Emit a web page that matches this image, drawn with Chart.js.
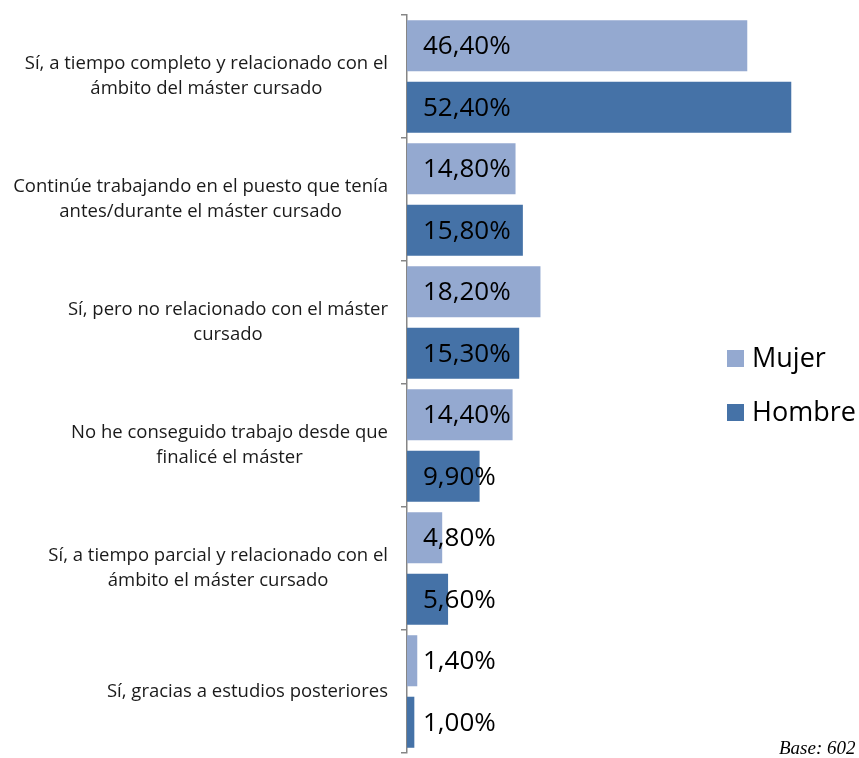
<!DOCTYPE html>
<html><head><meta charset="utf-8">
<script src="https://cdn.jsdelivr.net/npm/chart.js@4"></script>
<style>html,body{margin:0;padding:0;background:#fff;overflow:hidden}</style>
</head><body>
<canvas id="c" width="859" height="758"></canvas>
<script>
const categories = [
  ["Sí, a tiempo completo y relacionado con el","ámbito del máster cursado"],
  ["Continúe trabajando en el puesto que tenía","antes/durante el máster cursado"],
  ["Sí, pero no relacionado con el máster","cursado"],
  ["No he conseguido trabajo desde que","finalicé el máster"],
  ["Sí, a tiempo parcial y relacionado con el","ámbito el máster cursado"],
  ["Sí, gracias a estudios posteriores"]
];
const mujer = [46.4, 14.8, 18.2, 14.4, 4.8, 1.4];
const hombre = [52.4, 15.8, 15.3, 9.9, 5.6, 1.0];
const seriesNames = ["Mujer", "Hombre"];
const seriesColors = ["#94A9D0", "#4572A7"];
const baseNote = "Base: 602";
const FONT = "'Open Sans', sans-serif";

const fmt = v => v.toFixed(2).replace('.', ',') + '%';

const drawPlugin = {
  id: 'custom',
  afterDatasetsDraw(chart) {
    const ctx = chart.ctx;
    const x0 = chart.scales.x.getPixelForValue(0);
    ctx.save();
    ctx.fillStyle = '#000';
    ctx.textBaseline = 'middle';
    ctx.textAlign = 'left';
    ctx.font = "26px " + FONT;
    chart.data.datasets.forEach((ds, di) => {
      chart.getDatasetMeta(di).data.forEach((bar, i) => {
        ctx.fillText(fmt(ds.data[i]), x0 + 16, bar.y + 1);
      });
    });
    // category labels: block right-aligned, lines centered
    ctx.font = "18.5px " + FONT;
    ctx.fillStyle = '#1a1a1a';
    ctx.textAlign = 'center';
    const yS = chart.scales.y;
    const lh = 25;
    categories.forEach((lines, i) => {
      const cy = yS.getPixelForValue(i);
      let mw = 0;
      lines.forEach(l => mw = Math.max(mw, ctx.measureText(l).width));
      const cx = 388 - mw / 2;
      const top = cy - (lines.length - 1) * lh / 2;
      lines.forEach((l, k) => ctx.fillText(l, cx, top + k * lh));
    });
    // legend
    ctx.textAlign = 'left';
    ctx.font = "27px " + FONT;
    seriesNames.forEach((n, k) => {
      const ly = 358 + k * 54;
      ctx.fillStyle = seriesColors[k];
      ctx.fillRect(727, ly - 8, 17, 17);
      ctx.fillStyle = '#000';
      ctx.fillText(n, 752, ly + 1);
    });
    // base note
    ctx.font = "italic 19px 'Liberation Serif', serif";
    ctx.fillText(baseNote, 779, 749);
    ctx.restore();
  }
};

new Chart(document.getElementById('c'), {
  type: 'bar',
  data: {
    labels: categories,
    datasets: [
      { label: seriesNames[0], data: mujer, backgroundColor: seriesColors[0], categoryPercentage: 1, barPercentage: 0.83 },
      { label: seriesNames[1], data: hombre, backgroundColor: seriesColors[1], categoryPercentage: 1, barPercentage: 0.83 }
    ]
  },
  options: {
    indexAxis: 'y',
    responsive: false,
    animation: false,
    layout: { padding: { top: 15, bottom: 5, right: 12, left: 0 } },
    plugins: { legend: { display: false }, tooltip: { enabled: false } },
    scales: {
      x: { min: 0, max: 60, display: false },
      y: {
        offset: true,
        ticks: { display: false },
        grid: { offset: true, drawOnChartArea: false, tickLength: 6, color: '#868686', lineWidth: 1.5 },
        border: { display: true, color: '#868686', width: 1.5 },
        afterFit(s) { s.width = 407; }
      }
    }
  },
  plugins: [drawPlugin]
});
</script>
</body></html>
